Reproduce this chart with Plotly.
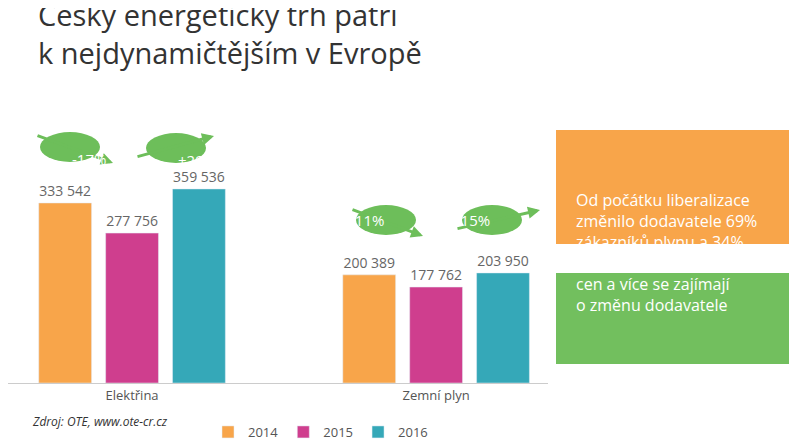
import plotly.graph_objects as go

categories = ["Elektřina", "Zemní plyn"]
years = ["2014", "2015", "2016"]
values = {"2014": [333542, 200389], "2015": [277756, 177762], "2016": [359536, 203950]}
colors = {"2014": "#F8A54A", "2015": "#CF3E8E", "2016": "#35A8B8"}
changes = ["-17%", "+29%", "-11%", "+15%"]

W, H = 797, 448
L, R, T, B = 0, 540, 110, 375


def px(x):
    return (x - L) / (R - L)


def py(y):
    return (B - y) / (B - T)


def fmt(v):
    return f"{v:,}".replace(",", " ")


fig = go.Figure()
for yr in years:
    fig.add_bar(x=[0, 1], y=values[yr], name=yr, marker_color=colors[yr],
                text=[fmt(v) for v in values[yr]], textposition="outside",
                textfont=dict(color="#666", size=14), cliponaxis=False)

shapes, annots = [], []
# green change ellipses: (center x, center y, arrow start, arrow end)
ell = [(62, 139, (28, 127), (105, 155)),
       (168, 140, (128, 149), (206, 128)),
       (378, 212, (343, 201), (415, 228)),
       (484, 212, (448, 221), (532, 202))]
for (cx, cy, a0, a1), txt in zip(ell, changes):
    annots.append(dict(x=px(a1[0]), y=py(a1[1]), ax=a0[0] - a1[0], ay=a0[1] - a1[1],
                       xref="paper", yref="paper", axref="pixel", ayref="pixel",
                       showarrow=True, arrowhead=2, arrowwidth=3, arrowcolor="#6DBE5A",
                       arrowsize=0.8, text=""))
    shapes.append(dict(type="circle", xref="paper", yref="paper", fillcolor="#6DBE5A",
                       line_width=0, x0=px(cx - 30), x1=px(cx + 30),
                       y0=py(cy + 15), y1=py(cy - 15)))
    annots.append(dict(x=px(cx), y=py(cy), xref="paper", yref="paper", text=txt,
                       showarrow=False, font=dict(color="white", size=15)))

shapes.append(dict(type="rect", xref="paper", yref="paper", fillcolor="#F8A54A", line_width=0,
                   x0=px(548), x1=px(781), y0=py(236), y1=py(122)))
shapes.append(dict(type="rect", xref="paper", yref="paper", fillcolor="#72BF5E", line_width=0,
                   x0=px(548), x1=px(781), y0=py(356), y1=py(265)))
annots.append(dict(x=px(566), y=py(179), xref="paper", yref="paper", xanchor="left",
                   align="left", showarrow=False, font=dict(color="white", size=16),
                   text="Od počátku liberalizace<br>změnilo dodavatele 69%<br>zákazníků plynu a 34%<br>zákazníků elektřiny"))
annots.append(dict(x=px(566), y=py(310), xref="paper", yref="paper", xanchor="left",
                   align="left", showarrow=False, font=dict(color="white", size=16),
                   text="Zákazníci těží z poklesu<br>cen a více se zajímají<br>o změnu dodavatele"))
annots.append(dict(x=px(22), y=py(424), xref="paper", yref="paper", showarrow=False,
                   text="<i>Zdroj: OTE, www.ote-cr.cz</i>", font=dict(size=12, color="#333"),
                   xanchor="left"))

fig.update_layout(
    width=W, height=H, plot_bgcolor="white", paper_bgcolor="white",
    font=dict(family="Open Sans, Calibri, sans-serif"),
    margin=dict(l=L, r=W - R, t=T, b=H - B),
    title=dict(text="Český energetický trh patří<br>k nejdynamičtějším v Evropě",
               x=30 / W, xanchor="left", y=1 - 18 / H, yanchor="top",
               font=dict(size=29, color="#333")),
    barmode="group", bargap=0.34, bargroupgap=0.21,
    xaxis=dict(range=[-0.408, 1.368], tickvals=[0, 1], ticktext=categories,
               showline=True, linecolor="#ccc", showgrid=False,
               tickfont=dict(size=13, color="#555")),
    yaxis=dict(range=[0, 491000], visible=False),
    legend=dict(orientation="h", x=px(200), y=py(424), yanchor="middle", xanchor="left",
                font=dict(size=13, color="#555")),
    shapes=shapes, annotations=annots,
)
fig.write_html("out.html")
